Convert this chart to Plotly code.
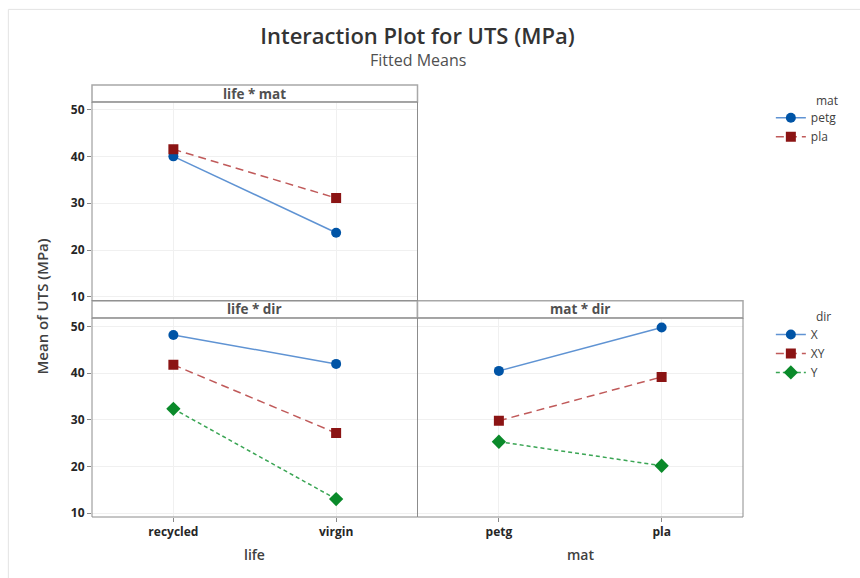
import plotly.graph_objects as go

life = ["recycled", "virgin"]
mat = ["petg", "pla"]
dirs = ["X", "XY", "Y"]

# life * mat (series by mat)
lm_petg = [40.0, 23.7]
lm_pla = [41.5, 31.1]
# life * dir (series by dir)
ld_X = [48.2, 42.0]
ld_XY = [41.8, 27.15]
ld_Y = [32.35, 13.0]
# mat * dir (series by dir)
md_X = [40.5, 49.8]
md_XY = [29.8, 39.2]
md_Y = [25.3, 20.15]

yticks = [10, 20, 30, 40, 50]

FONT = "Open Sans"
BLUE_M, BLUE_L = "#0054A6", "#5f93d3"
RED_M, RED_L = "#8b1414", "#c05a5a"
GRN_M, GRN_L = "#0a8a2a", "#3aa554"

styles = {
    "X": dict(line=dict(color=BLUE_L, width=1.5), marker=dict(symbol="circle", size=10, color=BLUE_M)),
    "XY": dict(line=dict(color=RED_L, width=1.5, dash="8px,5px"), marker=dict(symbol="square", size=10, color=RED_M)),
    "Y": dict(line=dict(color=GRN_L, width=1.5, dash="4px,3px"), marker=dict(symbol="diamond", size=11, color=GRN_M)),
}
mat_styles = {
    "petg": dict(line=dict(color=BLUE_L, width=1.5), marker=dict(symbol="circle", size=10, color=BLUE_M)),
    "pla": dict(line=dict(color=RED_L, width=1.5, dash="8px,5px"), marker=dict(symbol="square", size=10, color=RED_M)),
}

fig = go.Figure()
for name, vals in zip(mat, [lm_petg, lm_pla]):
    fig.add_trace(go.Scatter(x=life, y=vals, name=name, mode="lines+markers",
                             xaxis="x", yaxis="y", legend="legend", **mat_styles[name]))
for name, vals in zip(dirs, [ld_X, ld_XY, ld_Y]):
    fig.add_trace(go.Scatter(x=life, y=vals, name=name, mode="lines+markers",
                             xaxis="x2", yaxis="y2", legend="legend2", **styles[name]))
for name, vals in zip(dirs, [md_X, md_XY, md_Y]):
    fig.add_trace(go.Scatter(x=mat, y=vals, name=name, mode="lines+markers", showlegend=False,
                             xaxis="x3", yaxis="y3", **styles[name]))

GRID = "#f0f0f0"
tickfont = dict(family=FONT, size=12, color="#262626", weight="bold")
common_x = dict(type="category", range=[-0.5, 1.5], showgrid=True, gridcolor=GRID,
                zeroline=False, showline=False, tickfont=tickfont, fixedrange=True)
common_y = dict(tickvals=yticks, showgrid=True, gridcolor=GRID, zeroline=False,
                showline=False, tickfont=tickfont)

Y_TOP = [0.5007, 0.9607]
Y_BOT = [0.0, 0.4607]
fig.update_layout(
    xaxis=dict(domain=[0, 0.5], anchor="y", showticklabels=False, ticks="", **common_x),
    yaxis=dict(domain=Y_TOP, anchor="x", range=[9.2, 51.6], ticks="outside", ticklen=4,
               tickcolor="#888", **common_y),
    xaxis2=dict(domain=[0, 0.5], anchor="y2", ticks="outside", ticklen=4, tickcolor="#888", **common_x),
    yaxis2=dict(domain=Y_BOT, anchor="x2", range=[9.15, 51.85], ticks="outside", ticklen=4,
                tickcolor="#888", **common_y),
    xaxis3=dict(domain=[0.5, 1], anchor="y3", ticks="outside", ticklen=4, tickcolor="#888", **common_x),
    yaxis3=dict(domain=Y_BOT, anchor="x3", range=[9.15, 51.85], showticklabels=False, ticks="", **common_y),
)

shapes = []
BORDER = "#8c8c8c"
STRIP = "#a8a8a8"
# strips
for x0, x1, y0, y1 in [(0, 0.5, 0.9607, 1.0), (0, 0.5, 0.4607, 0.5007), (0.5, 1, 0.4607, 0.5007)]:
    shapes.append(dict(type="rect", xref="paper", yref="paper", x0=x0, x1=x1, y0=y0, y1=y1,
                       line=dict(color=STRIP, width=1.5), fillcolor="white", layer="above"))
# plot borders
for x0, x1, y0, y1 in [(0, 0.5, Y_TOP[0], Y_TOP[1]), (0, 0.5, 0, 0.4607), (0.5, 1, 0, 0.4607)]:
    shapes.append(dict(type="rect", xref="paper", yref="paper", x0=x0, x1=x1, y0=y0, y1=y1,
                       line=dict(color=BORDER, width=1), layer="above"))
# window frame lines
shapes.append(dict(type="line", xref="paper", yref="paper", x0=-0.1285, x1=1.2, y0=1.175, y1=1.175,
                   line=dict(color="#e3e3e3", width=1)))
shapes.append(dict(type="line", xref="paper", yref="paper", x0=-0.1285, x1=-0.1285, y0=1.175, y1=-0.2,
                   line=dict(color="#e3e3e3", width=1)))

ann = []
strip_font = dict(family=FONT, size=13.5, color="#505050", weight="bold")
for txt, x, y in [("life * mat", 0.25, 0.9803), ("life * dir", 0.25, 0.4807), ("mat * dir", 0.75, 0.4807)]:
    ann.append(dict(text=txt, x=x, y=y, xref="paper", yref="paper", showarrow=False,
                    xanchor="center", yanchor="middle", font=strip_font))
ann.append(dict(text="Fitted Means", x=0.5, y=1.057, xref="paper", yref="paper", showarrow=False,
                xanchor="center", yanchor="middle", font=dict(family=FONT, size=16, color="#505050")))
ann.append(dict(text="Mean of UTS (MPa)", x=-0.0763, y=0.488, xref="paper", yref="paper",
                showarrow=False, textangle=-90, xanchor="center", yanchor="middle",
                font=dict(family=FONT, size=15, color="#404040", weight=600)))
for txt, x in [("life", 0.25), ("mat", 0.75)]:
    ann.append(dict(text=txt, x=x, y=-0.087, xref="paper", yref="paper", showarrow=False,
                    xanchor="center", yanchor="middle",
                    font=dict(family=FONT, size=14, color="#404040", weight=600)))
# legend titles
LX = (814 - 91.7) / 651.6
for txt, y in [("mat", (517.3 - 100) / 432.6), ("dir", (517.3 - 316.7) / 432.6)]:
    ann.append(dict(text=txt, x=LX, y=y, xref="paper", yref="paper", showarrow=False,
                    xanchor="left", yanchor="middle", font=dict(family=FONT, size=12, color="#404040")))

legfont = dict(family=FONT, size=12, color="#404040")
LEGX = 1.0305 + 8 / 651.6
fig.update_layout(
    width=860, height=578,
    margin=dict(l=91.7, r=116.7, t=84.7, b=60.7),
    paper_bgcolor="white", plot_bgcolor="white",
    title=dict(text="Interaction Plot for UTS (MPa)", x=0.5, xref="paper", y=1 - 36 / 578,
               yref="container", xanchor="center", yanchor="middle",
               font=dict(family=FONT, size=22, color="#333333", weight=600)),
    shapes=shapes, annotations=ann,
    legend=dict(x=LEGX, y=(517.3 - 103) / 432.6, xanchor="left", yanchor="top", font=legfont,
                bgcolor="rgba(0,0,0,0)", itemclick=False, tracegroupgap=0),
    legend2=dict(x=LEGX, y=(517.3 - 320) / 432.6, xanchor="left", yanchor="top", font=legfont,
                 bgcolor="rgba(0,0,0,0)", itemclick=False, tracegroupgap=0),
    font=dict(family=FONT),
)

fig.write_html("out.html")
